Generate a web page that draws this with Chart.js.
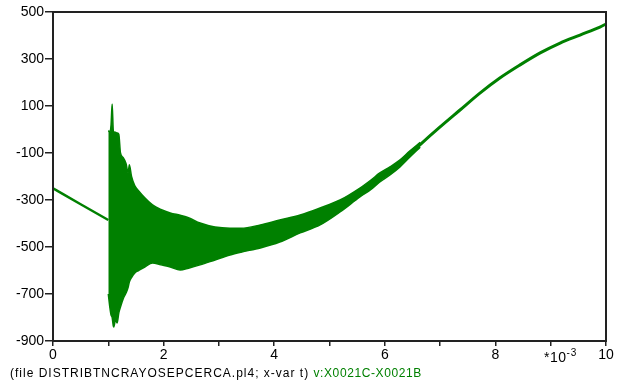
<!DOCTYPE html>
<html>
<head>
<meta charset="utf-8">
<script src="https://cdn.jsdelivr.net/npm/chart.js@4.4.1/dist/chart.umd.min.js"></script>
<style>
  body { margin: 0; background: #fff; }
  #wrap { position: relative; width: 618px; height: 385px; }
  .txt { position: absolute; font-family: "Liberation Sans", Arial, sans-serif; white-space: nowrap; }
</style>
</head>
<body>
<div id="wrap">
  <canvas id="c"></canvas>
  <div class="txt" style="left:544px; top:347px; font-size:14px; color:#000; letter-spacing:0.5px;">*10<sup style="font-size:10px; vertical-align:6px; letter-spacing:1px;">-3</sup></div>
  <div class="txt" style="left:10px; top:366px; font-size:12px; color:#000; letter-spacing:1px;">(file DISTRIBTNCRAYOSEPCERCA.pl4; x-var t)&nbsp;<span style="color:#008000; letter-spacing:0.6px;">v:X0021C-X0021B</span></div>
</div>
<script>
// time in ms (*10^-3 s), voltage values
const preT = [0, 0.5, 1.0];
const preV = [-250, -318, -385];

// envelope of the oscillating part
const envT = [1.00, 1.03, 1.05, 1.07, 1.09, 1.10, 1.13, 1.16, 1.19, 1.22,
  1.27, 1.32, 1.36, 1.38, 1.42, 1.48, 1.55, 1.66, 1.80, 1.95,
  2.12, 2.30, 2.45, 2.66, 2.93, 3.20, 3.40, 3.75, 4.10, 4.47,
  4.83, 5.19, 5.55, 5.75, 5.91, 6.10, 6.27, 6.45, 6.64];
const envUpper = [-5, -10, 20, 108, -5, -10, -12, -15, -20, -100,
  -120, -145, -185, -150, -200, -240, -262, -291, -321, -340,
  -355, -365, -375, -398, -415, -420, -420, -406, -385, -364,
  -334, -300, -249, -215, -185, -158, -130, -92, -55];
const envLower = [-700, -760, -790, -800, -835, -840, -810, -823, -780, -755,
  -720, -696, -670, -649, -630, -610, -600, -585, -568, -576,
  -585, -598, -590, -576, -555, -534, -522, -504, -479, -440,
  -406, -351, -287, -255, -223, -192, -160, -118, -75];

const postT = [6.27, 6.64, 7.0, 7.36, 7.72, 8.08, 8.44, 8.81, 9.17, 9.53, 9.89, 10.0];
const postV = [-145, -64, 11, 83, 155, 219, 274, 326, 368, 402, 436, 449];

const xTicks = [0, 1, 2, 3, 4, 5, 6, 7, 8, 9, 10];
const yTicks = [-900, -700, -500, -300, -100, 100, 300, 500];

const green = "#008000";

function pts(xs, ys) {
  return xs.map((x, i) => ({ x: x, y: ys[i] }));
}

// frame around the plot area
const framePlugin = {
  id: "frame",
  afterDraw(chart) {
    const a = chart.chartArea;
    const ctx = chart.ctx;
    ctx.save();
    ctx.strokeStyle = "#222";
    ctx.lineWidth = 2;
    ctx.strokeRect(a.left, a.top, a.right - a.left, a.bottom - a.top);
    ctx.restore();
  },
};

new Chart(document.getElementById("c"), {
  type: "line",
  data: {
    datasets: [
      { data: pts(envT, envUpper), borderColor: green, borderWidth: 1.5, fill: false },
      { data: pts(envT, envLower), borderColor: green, borderWidth: 1.5, backgroundColor: green, fill: "-1" },
      { data: pts(preT, preV), borderColor: green, borderWidth: 2.5, fill: false },
      { data: pts(postT, postV), borderColor: green, borderWidth: 3, fill: false },
    ],
  },
  options: {
    responsive: true,
    maintainAspectRatio: false,
    animation: false,
    layout: { padding: { top: 12, right: 12, left: 0, bottom: 0 } },
    elements: { point: { radius: 0 }, line: { cubicInterpolationMode: "monotone" } },
    plugins: { legend: { display: false }, tooltip: { enabled: false } },
    scales: {
      x: {
        type: "linear",
        min: 0,
        max: 10,
        afterBuildTicks: (s) => { s.ticks = xTicks.map((v) => ({ value: v })); },
        afterFit: (s) => { s.height = 44; },
        ticks: {
          autoSkip: false,
          maxRotation: 0,
          padding: 1,
          color: "#000",
          font: { family: "Liberation Sans", size: 14 },
          callback: (v) => (v % 2 === 0 ? String(v) : ""),
        },
        grid: { drawOnChartArea: false, tickLength: 5, color: "#222", lineWidth: 1.5 },
        border: { color: "#222", width: 2 },
      },
      y: {
        min: -900,
        max: 500,
        afterBuildTicks: (s) => { s.ticks = yTicks.map((v) => ({ value: v })); },
        afterFit: (s) => { s.width = 53; },
        ticks: {
          padding: 1,
          color: "#000",
          font: { family: "Liberation Sans", size: 14 },
          callback: (v) => String(v),
        },
        grid: { drawOnChartArea: false, tickLength: 8, color: "#222", lineWidth: 1.5 },
        border: { color: "#222", width: 2 },
      },
    },
  },
  plugins: [framePlugin],
});
</script>
</body>
</html>
